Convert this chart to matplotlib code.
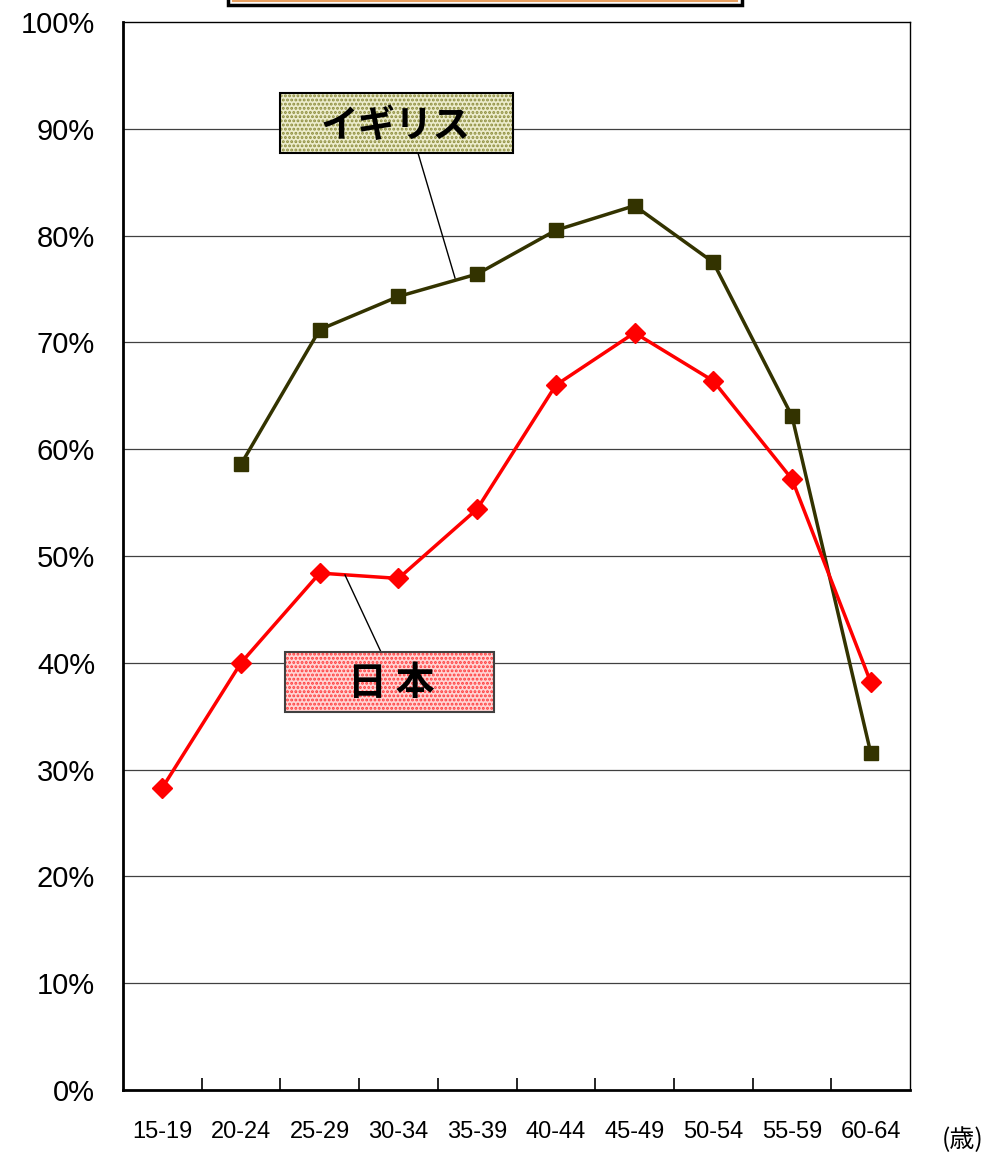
import numpy as np
import matplotlib.pyplot as plt
from matplotlib.patches import Rectangle
import matplotlib as mpl

plt.rcParams['font.family'] = ['Liberation Sans', 'Noto Sans CJK JP', 'DejaVu Sans']
mpl.rcParams['hatch.linewidth'] = 1.4

# Dane
age_groups = ['15-19', '20-24', '25-29', '30-34', '35-39',
              '40-44', '45-49', '50-54', '55-59', '60-64']
japan = [28.3, 40.0, 48.4, 47.9, 54.4, 66.0, 70.9, 66.4, 57.2, 38.2]
uk = [np.nan, 58.6, 71.2, 74.3, 76.4, 80.5, 82.8, 77.5, 63.1, 31.6]
y_ticks = list(range(0, 101, 10))

fig = plt.figure(figsize=(9.84, 11.55), dpi=100)
ax = fig.add_axes([123/984, 1 - 1090/1155, (910-123)/984, (1090-22)/1155])

x = np.arange(len(age_groups))

# Linie siatki
for t in y_ticks[1:-1]:
    ax.axhline(t, color='#404040', linewidth=0.9, zorder=1)

ax.plot(x, uk, color='#333300', linewidth=2.5, marker='s', markersize=10.5,
        markeredgecolor='#333300', zorder=3)
ax.plot(x, japan, color='#ff0000', linewidth=2.5, marker='D', markersize=10.5,
        markeredgecolor='#ff0000', zorder=4)

ax.set_xlim(-0.5, len(age_groups) - 0.5)
ax.set_ylim(0, 100)
ax.set_yticks(y_ticks)
ax.set_yticklabels([f'{t}%' for t in y_ticks], fontsize=21)
ax.tick_params(axis='y', length=0, pad=20)
ax.set_xticks(x)
ax.set_xticklabels(age_groups, fontsize=17)
ax.tick_params(axis='x', which='major', length=0, pad=22)
ax.set_xticks(np.arange(0.5, len(age_groups) - 1, 1), minor=True)
ax.tick_params(axis='x', which='minor', direction='in', length=9, width=1.2)

for s in ['left', 'bottom']:
    ax.spines[s].set_linewidth(2)
for s in ['top', 'right']:
    ax.spines[s].set_linewidth(1)

fig.text(983/984, 1 - 1140/1155, '(歳)', fontsize=18, ha='right', va='center',
         family=['Noto Sans CJK JP', 'DejaVu Sans'])

# Linie odniesienia do etykiet
def px(xp, yp):
    return (xp / 984, 1 - yp / 1155)

fig.add_artist(plt.Line2D(*zip(px(418, 153), px(455, 278)), color='black', linewidth=1))
fig.add_artist(plt.Line2D(*zip(px(381, 652), px(345, 575)), color='black', linewidth=1))

# Etykieta Wielka Brytania
fig.add_artist(Rectangle(px(280, 153), 233/984, 60/1155, facecolor='#ececcc',
                         edgecolor='#8c8c3c', hatch='....', linewidth=0, zorder=5))
fig.add_artist(Rectangle(px(280, 153), 233/984, 60/1155, facecolor='none',
                         edgecolor='black', linewidth=1.5, zorder=6))
fig.text(*px(396, 126), 'イギリス', fontsize=27, fontweight='bold', ha='center',
         va='center', family=['Noto Sans CJK JP', 'DejaVu Sans'], zorder=7)

# Etykieta Japonia
fig.add_artist(Rectangle(px(285, 712), 209/984, 60/1155, facecolor='#ffd4d4',
                         edgecolor='#ff3c3c', hatch='....', linewidth=0, zorder=5))
fig.add_artist(Rectangle(px(285, 712), 209/984, 60/1155, facecolor='none',
                         edgecolor='#404040', linewidth=1.5, zorder=6))
fig.text(*px(391, 684), '日 本', fontsize=28, fontweight='bold', ha='center',
         va='center', family=['Noto Sans CJK JP', 'DejaVu Sans'], zorder=7)

# Ramka tytułu (ucięta u góry)
fig.add_artist(Rectangle(px(228, 5), 514/984, 40/1155, facecolor='white',
                         edgecolor='black', linewidth=2.5, zorder=5))
fig.add_artist(Rectangle(px(233, 1), 504/984, 40/1155, facecolor='white',
                         edgecolor='#e8a060', linewidth=1.5, zorder=6))

fig.savefig('out.png', dpi=100)
